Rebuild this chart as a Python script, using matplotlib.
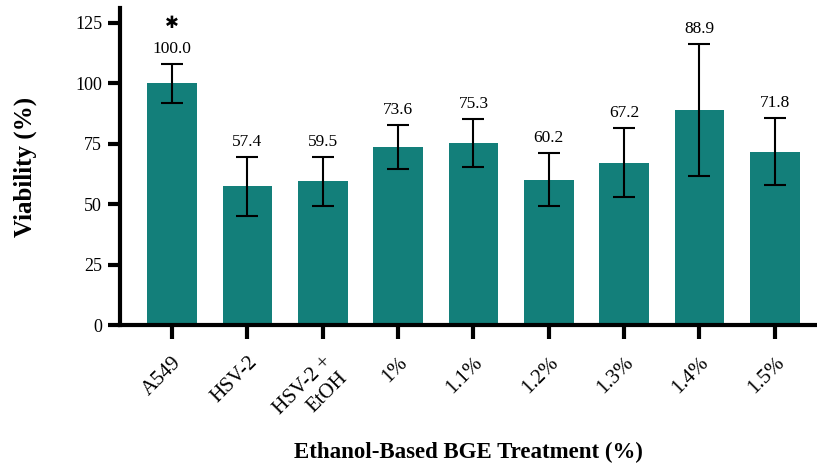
import matplotlib
matplotlib.use("Agg")
import matplotlib.pyplot as plt

plt.rcParams.update({
    "font.family": ["Liberation Serif", "DejaVu Serif"],
    "font.size": 12,
})

treatments = ["A549", "HSV-2", "HSV-2 +\nEtOH", "1%", "1.1%", "1.2%", "1.3%", "1.4%", "1.5%"]
viability = [100.0, 57.4, 59.5, 73.6, 75.3, 60.2, 67.2, 88.9, 71.8]
viability_err = [8.2, 12.3, 10.0, 9.2, 9.9, 11.0, 14.3, 27.2, 14.0]
significant = [True, False, False, False, False, False, False, False, False]

BAR_COLOR = "#137f7a"

fig = plt.figure(figsize=(8.17, 4.66), dpi=100)
ax = fig.add_axes([0.147, 0.302, 0.853, 0.680])

x = list(range(len(treatments)))
ax.bar(x, viability, width=0.66, color=BAR_COLOR, zorder=2)
ax.errorbar(x, viability, yerr=viability_err, fmt="none", ecolor="black",
            elinewidth=1.5, capsize=8, capthick=1.5, zorder=3)

for xi, v, e, sig in zip(x, viability, viability_err, significant):
    ax.annotate(f"{v:.1f}", (xi, v + e), xytext=(0, 5), textcoords="offset points",
                ha="center", va="bottom", fontsize=12.5)
    if sig:
        ax.annotate("\u2731", (xi, v + e), xytext=(0, 29), textcoords="offset points",
                    ha="center", va="center", fontsize=12, family="DejaVu Sans")

ax.set_xlim(-0.69, 8.56)
ax.set_ylim(0, 131)
ax.set_yticks([0, 25, 50, 75, 100, 125])

ax.set_xticks(x)
ax.set_xticklabels(treatments, rotation=45, ha="right", rotation_mode="anchor",
                   multialignment="right")

for side in ("top", "right"):
    ax.spines[side].set_visible(False)
for side in ("left", "bottom"):
    ax.spines[side].set_linewidth(3)

ax.tick_params(axis="x", length=10, width=3, pad=10, labelsize=15)
ax.tick_params(axis="y", length=9, width=3, pad=4, labelsize=13)

ax.set_ylabel("Viability (%)", fontsize=18, fontweight="bold", va="center")
ax.yaxis.set_label_coords(-0.136, 0.5)
ax.set_xlabel("Ethanol-Based BGE Treatment (%)", fontsize=16.5, fontweight="bold", va="center")
ax.xaxis.set_label_coords(0.5, -0.40)

fig.savefig("out.png", dpi=100)
